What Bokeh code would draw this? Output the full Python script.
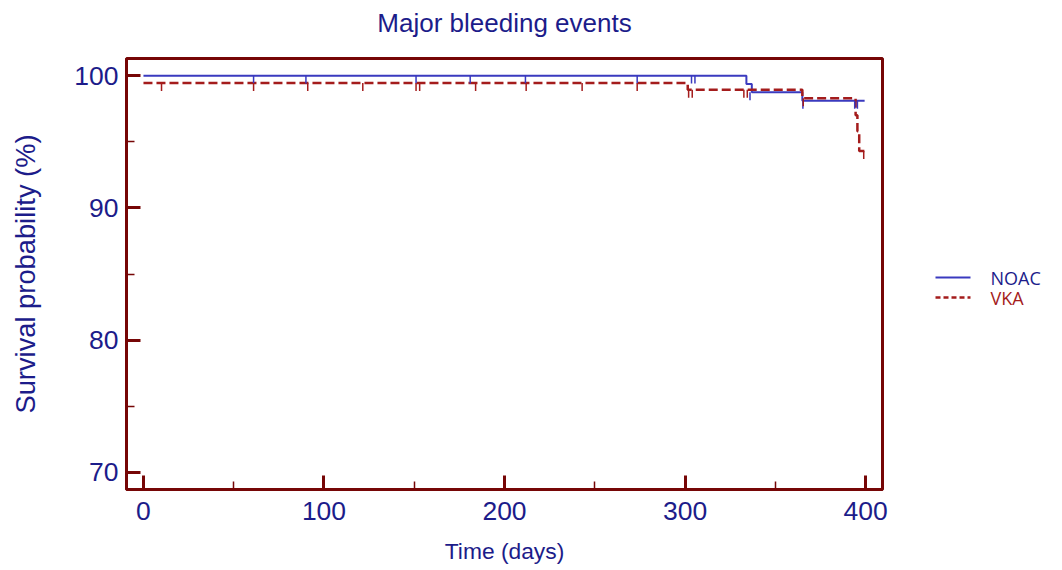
from bokeh.plotting import figure
from bokeh.layouts import row, column
from bokeh.models import FixedTicker, Range1d
from bokeh.core.properties import value
from bokeh.embed import file_html
from bokeh.resources import INLINE

# ---- data ----
noac_time = [0, 334, 337, 365, 399.5]
noac_surv = [100.0, 99.37, 98.74, 98.1, 98.1]
vka_time = [0, 301.5, 365, 394.5, 395.5, 396.5, 399.5]
vka_surv = [99.45, 98.94, 98.29, 97.0, 95.8, 94.3, 94.3]

noac_cens_time = [61, 90, 151, 181, 211.6, 273.5, 303.6, 305.5, 336, 365.3, 394, 395.5]
noac_cens_surv = [100, 100, 100, 100, 100, 100, 100, 100, 98.74, 98.1, 98.1, 98.1]
vka_cens_time = [10, 61, 91, 121.5, 151, 153, 184, 212, 243, 273.5, 302, 304, 332.6, 334.5, 365.5, 399]
vka_cens_surv = [99.45] * 10 + [98.94, 98.94, 98.94, 98.94, 98.29, 94.3]

x_ticks = [0, 100, 200, 300, 400]
x_minor = [50, 150, 250, 350]
y_ticks = [70, 80, 90, 100]
y_minor = [75, 85, 95]

series_labels = ["NOAC", "VKA"]
title_text = "Major bleeding events"

NAVY = "#1c1c8a"
MAROON = "#760606"
BLUE = "#3a3abf"
RED = "#a41c1c"
FONT = "Liberation Sans"
TICK_LEN = 0.6

# page geometry (pixels)
TITLE_H = 40
FRAME_L, FRAME_R, FRAME_T, FRAME_B = 126, 882, 58, 489
MAIN_W = 900
PAGE_W, PAGE_H = 1062, 570

p = figure(width=MAIN_W, height=PAGE_H - TITLE_H, output_backend="svg", toolbar_location=None,
           x_range=(-9.4, 409.4), y_range=(68.7, 101.3),
           min_border_left=FRAME_L, min_border_right=MAIN_W - FRAME_R,
           min_border_top=FRAME_T - TITLE_H, min_border_bottom=PAGE_H - FRAME_B)
p.background_fill_color = "white"
p.border_fill_color = "white"
p.outline_line_color = MAROON
p.outline_line_width = 3
p.grid.visible = False

for ax, ticks, minor in ((p.xaxis[0], x_ticks, x_minor), (p.yaxis[0], y_ticks, y_minor)):
    ax.ticker = FixedTicker(ticks=ticks, minor_ticks=minor)
    ax.axis_line_color = MAROON
    ax.axis_line_width = 3
    ax.major_tick_line_color = MAROON
    ax.major_tick_line_width = 3
    ax.minor_tick_line_color = MAROON
    ax.minor_tick_line_width = 1.5
    ax.major_tick_in = 14
    ax.major_tick_out = 0
    ax.minor_tick_in = 8
    ax.minor_tick_out = 0
    ax.major_label_text_font = FONT
    ax.major_label_text_font_size = "26.5px"
    ax.major_label_text_color = NAVY
    ax.axis_label_text_font = FONT
    ax.axis_label_text_font_style = "normal"
    ax.axis_label_text_color = NAVY

p.xaxis.axis_label = "Time (days)"
p.xaxis.axis_label_text_font_size = "22.8px"
p.xaxis.major_label_standoff = 12
p.xaxis.axis_label_standoff = 15
p.yaxis.axis_label = "Survival probability (%)"
p.yaxis.axis_label_text_font_size = "27.3px"
p.yaxis.major_label_standoff = 8
p.yaxis.axis_label_standoff = 30

p.step(noac_time, noac_surv, mode="after", line_color=BLUE, line_width=2)
p.step(vka_time, vka_surv, mode="after", line_color=RED, line_width=2.5, line_dash="9 4")

p.segment(x0=noac_cens_time, y0=noac_cens_surv, x1=noac_cens_time,
          y1=[v - TICK_LEN for v in noac_cens_surv], line_color=BLUE, line_width=1.5)
p.segment(x0=vka_cens_time, y0=vka_cens_surv, x1=vka_cens_time,
          y1=[v - TICK_LEN for v in vka_cens_surv], line_color=RED, line_width=1.5)


def blank(fig):
    fig.axis.visible = False
    fig.grid.visible = False
    fig.outline_line_color = None
    fig.background_fill_color = "white"
    fig.border_fill_color = "white"
    return fig


# ---- title strip (coordinates in page pixels) ----
tf = blank(figure(width=MAIN_W, height=TITLE_H, output_backend="svg", toolbar_location=None,
                  x_range=Range1d(FRAME_L, FRAME_R), y_range=Range1d(TITLE_H, 0),
                  min_border_left=FRAME_L, min_border_right=MAIN_W - FRAME_R,
                  min_border_top=0, min_border_bottom=0))
tf.text(x=[(FRAME_L + FRAME_R) / 2], y=[22], text=[title_text], text_color=NAVY,
        text_font=value(FONT), text_font_size="26px", text_align="center",
        text_baseline="middle")

# ---- legend panel to the right (coordinates in page pixels) ----
lg = blank(figure(width=PAGE_W - MAIN_W, height=PAGE_H - TITLE_H, output_backend="svg",
                  toolbar_location=None,
                  x_range=Range1d(MAIN_W, PAGE_W), y_range=Range1d(FRAME_B, FRAME_T),
                  min_border_left=0, min_border_right=0,
                  min_border_top=FRAME_T - TITLE_H, min_border_bottom=PAGE_H - FRAME_B))

leg_y = [277, 297]
leg_x0, leg_x1, leg_tx = 935, 970, 990
lg.segment(x0=[leg_x0], y0=[leg_y[0]], x1=[leg_x1], y1=[leg_y[0]], line_color=BLUE, line_width=2)
lg.segment(x0=[leg_x0], y0=[leg_y[1]], x1=[leg_x1], y1=[leg_y[1]], line_color=RED,
           line_width=2.5, line_dash="5 3")
lg.text(x=[leg_tx], y=[leg_y[0]], text=[series_labels[0]], text_color=NAVY,
        text_font=value("Open Sans"), text_font_size="18px", text_baseline="middle")
lg.text(x=[leg_tx], y=[leg_y[1]], text=[series_labels[1]], text_color=RED,
        text_font=value("Open Sans"), text_font_size="18px", text_baseline="middle")

layout = column(tf, row(p, lg))
open("out.html", "w").write(file_html(layout, INLINE))
